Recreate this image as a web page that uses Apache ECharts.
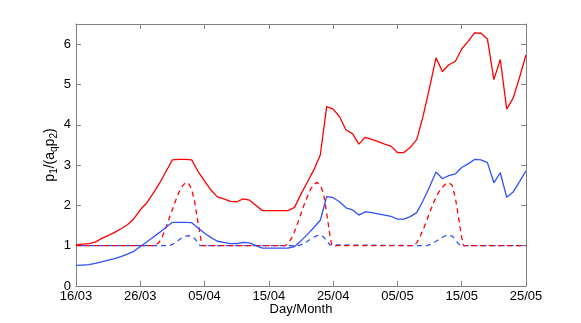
<!DOCTYPE html>
<html><head><meta charset="utf-8">
<script src="https://cdn.jsdelivr.net/npm/echarts/dist/echarts.min.js"></script>
<style>html,body{margin:0;padding:0;background:#fff}#c{width:581px;height:323px}</style>
</head><body><div id="c"></div>
<script>
const xTickLabels = ['16/03','26/03','05/04','15/04','25/04','05/05','15/05','25/05'];
const xName = 'Day/Month';
const yName = '{n|p}{s|1}{n|/(a}{s|q}{n|p}{s|2}{n|)}';

// daily values, day 0 = 16/03
const redSolid = [1.02,1.04,1.05,1.09,1.18,1.25,1.33,1.42,1.52,1.67,
  1.89,2.06,2.30,2.55,2.84,3.13,3.14,3.14,3.13,2.84,
  2.60,2.38,2.21,2.16,2.10,2.09,2.16,2.13,2.00,1.87,
  1.87,1.87,1.87,1.87,1.95,2.28,2.58,2.88,3.25,4.45,
  4.39,4.20,3.87,3.78,3.52,3.69,3.64,3.58,3.52,3.47,
  3.31,3.31,3.44,3.63,4.22,4.92,5.66,5.32,5.49,5.57,
  5.88,6.07,6.28,6.27,6.13,5.12,5.62,4.39,4.66,5.18,5.73];
const blueSolid = [0.51,0.52,0.53,0.56,0.60,0.64,0.68,0.73,0.79,0.86,
  0.98,1.09,1.21,1.33,1.46,1.58,1.58,1.58,1.57,1.44,
  1.31,1.20,1.11,1.08,1.05,1.05,1.08,1.07,1.00,0.94,
  0.94,0.94,0.94,0.94,0.98,1.12,1.28,1.45,1.63,2.22,
  2.19,2.09,1.94,1.89,1.76,1.84,1.82,1.79,1.76,1.73,
  1.66,1.66,1.72,1.82,2.12,2.46,2.83,2.66,2.74,2.78,
  2.94,3.03,3.14,3.13,3.06,2.56,2.81,2.20,2.33,2.59,2.86];
// [day, value]
const redDashed = [[0,1],[12,1],[12.5,1.03],[13,1.1],[13.5,1.25],[14,1.45],[14.5,1.68],[15,1.9],[15.5,2.12],[16,2.32],[16.5,2.47],[17,2.56],[17.5,2.55],[18,2.4],[18.5,2.05],[19,1.55],[19.5,1.1],[19.7,1],
  [32.5,1],[33,1.05],[33.5,1.18],[34,1.35],[34.5,1.57],[35,1.8],[35.5,2.02],[36,2.22],[36.5,2.4],[37,2.52],[37.5,2.57],[38,2.5],[38.5,2.3],[39,1.8],[39.5,1.25],[39.8,1],
  [52.5,1],[53,1.07],[53.5,1.22],[54,1.4],[54.5,1.6],[55,1.82],[55.5,2.02],[56,2.2],[56.5,2.35],[57,2.45],[57.5,2.53],[58,2.56],[58.5,2.5],[59,2.2],[59.5,1.7],[60,1.2],[60.3,1],[70,1]];
const blueDashed = [[0,1],[14.5,1],[15,1.03],[15.5,1.08],[16,1.14],[16.5,1.2],[17,1.23],[17.5,1.25],[18,1.24],[18.5,1.17],[19,1.07],[19.3,1],
  [34.5,1],[35,1.02],[35.5,1.06],[36,1.11],[36.5,1.16],[37,1.21],[37.5,1.25],[38,1.26],[38.5,1.22],[39,1.12],[39.5,1.02],[39.7,1],
  [54.5,1],[55,1.02],[55.5,1.06],[56,1.11],[56.5,1.16],[57,1.21],[57.5,1.25],[58,1.26],[58.5,1.24],[59,1.15],[59.5,1.05],[59.8,1],[70,1]];

const FONT = "'Liberation Sans', Arial, Helvetica, sans-serif";
const AX = '#808080';
const RED = '#ff0000', BLUE = '#3050ff';

const chart = echarts.init(document.getElementById('c'), null, {renderer:'canvas'});
const baseX = {type:'value', min:0, max:70, interval:10, splitLine:{show:false},
  axisLine:{show:true, onZero:false, lineStyle:{color:AX, width:1}},
  axisTick:{show:true, inside:true, length:5, lineStyle:{color:AX}}};
const baseY = {type:'value', min:0, max:6.5, interval:1, splitLine:{show:false},
  axisLine:{show:true, onZero:false, lineStyle:{color:AX, width:1}},
  axisTick:{show:true, inside:true, length:5, lineStyle:{color:AX}}};

chart.setOption({
  animation:false,
  backgroundColor:'#fff',
  grid:{left:76, right:55, top:24, bottom:37, containLabel:false},
  xAxis:[
    Object.assign({}, baseX, {position:'bottom',
      axisLabel:{color:'#000', fontSize:13, fontFamily:FONT, margin:4,
        formatter:v => xTickLabels[Math.round(v/10)]},
      name:xName, nameLocation:'middle', nameGap:17, nameMoveOverlap:false,
      nameTextStyle:{color:'#000', fontSize:13, fontFamily:FONT}}),
    Object.assign({}, baseX, {position:'top', axisLabel:{show:false}})
  ],
  yAxis:[
    Object.assign({}, baseY, {position:'left',
      axisLabel:{color:'#000', fontSize:13, fontFamily:FONT, margin:5, showMaxLabel:false,
        formatter:v => (Number.isInteger(v) ? String(v) : '')},
      name:yName, nameLocation:'middle', nameGap:17, nameMoveOverlap:false,
      nameTextStyle:{color:'#000', fontSize:14, fontFamily:FONT,
        rich:{n:{fontSize:14, color:'#000', fontFamily:FONT},
              s:{fontSize:10, color:'#000', fontFamily:FONT, padding:[7,0,0,0]}}}}),
    Object.assign({}, baseY, {position:'right', axisLabel:{show:false}})
  ],
  series:[
    {type:'line', data:blueDashed, showSymbol:false, symbol:'none',
      lineStyle:{color:BLUE, width:1.3, type:[5,4], dashOffset:5}},
    {type:'line', data:redDashed, showSymbol:false, symbol:'none',
      lineStyle:{color:RED, width:1.3, type:[5,4]}},
    {type:'line', data:blueSolid.map((v,i)=>[i,v]), showSymbol:false, symbol:'none',
      lineStyle:{color:BLUE, width:1.3}},
    {type:'line', data:redSolid.map((v,i)=>[i,v]), showSymbol:false, symbol:'none',
      lineStyle:{color:RED, width:1.3}}
  ]
});
</script>
</body></html>
